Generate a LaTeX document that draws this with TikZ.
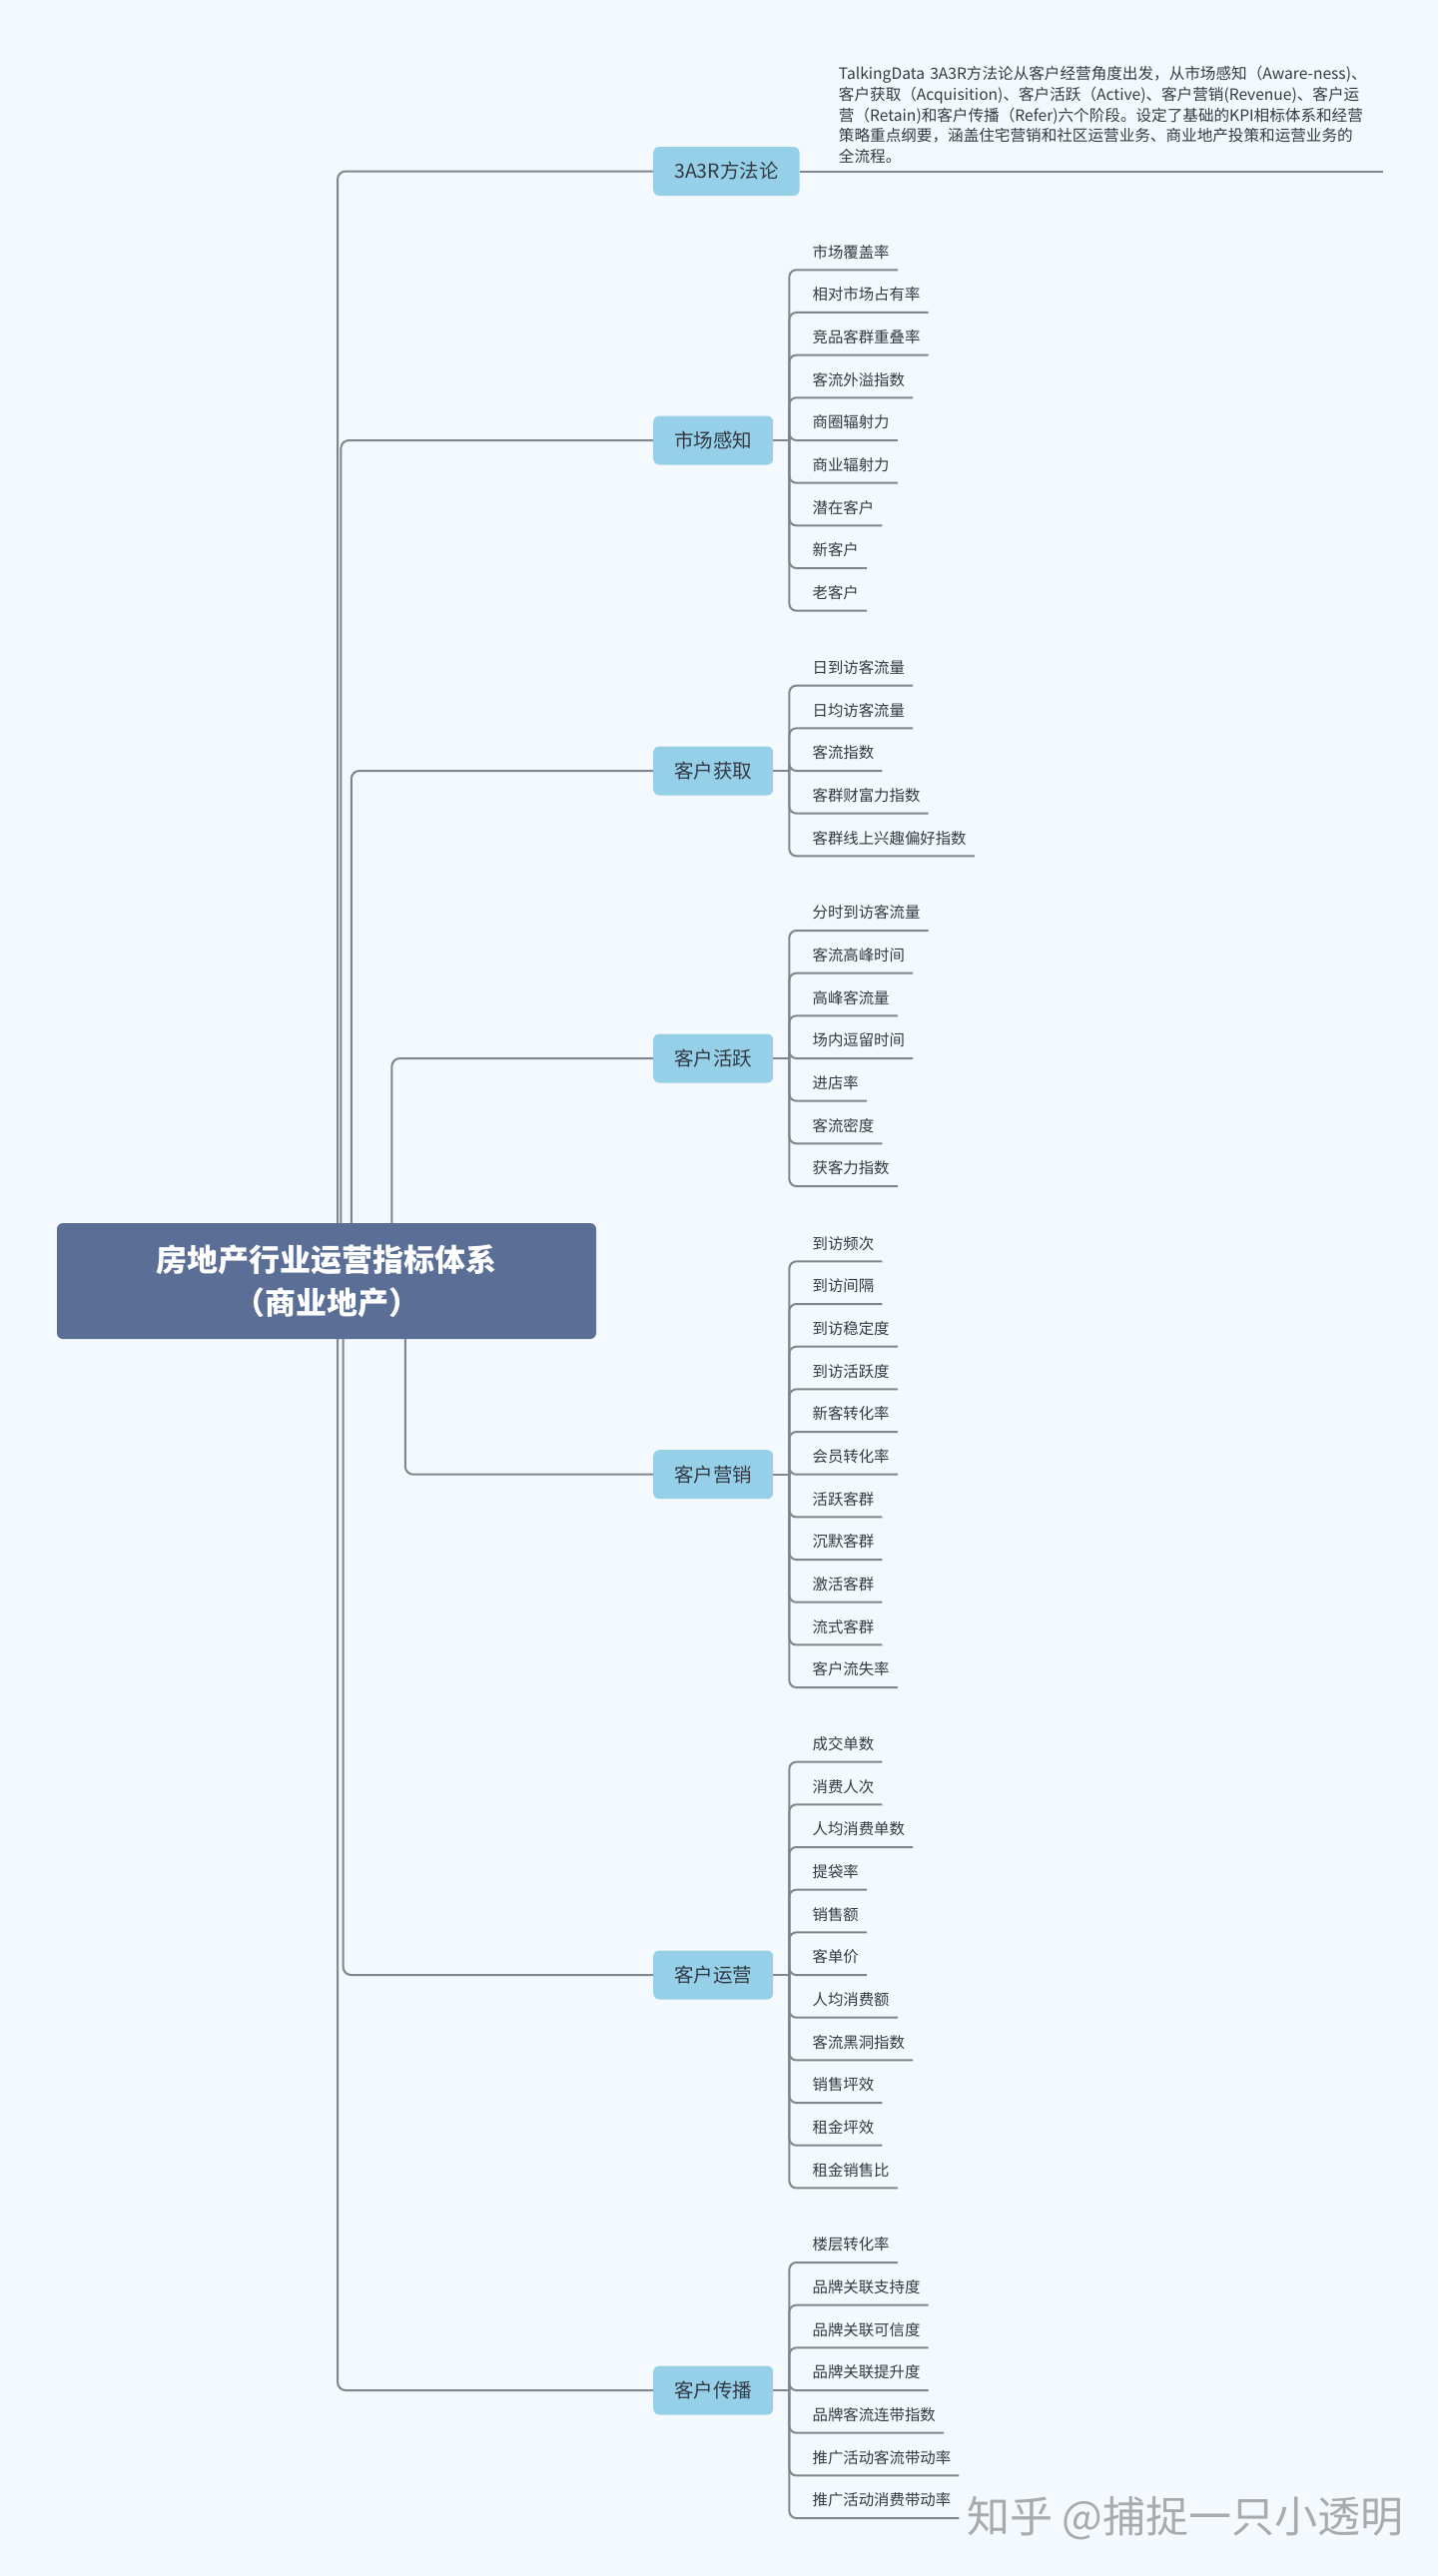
\documentclass[tikz,border=0pt]{standalone}
\usepackage{fontspec}
\setmainfont{Noto Sans CJK SC}
\usepackage{tikz}
\usetikzlibrary{positioning}
\definecolor{cBg}{HTML}{F4F9FD}
\definecolor{cRoot}{HTML}{5A6E96}
\definecolor{cBranch}{HTML}{96D0E8}
\definecolor{cLine}{HTML}{80858F}
\definecolor{cTxt}{HTML}{333A44}
\definecolor{cMark}{HTML}{A8AAAC}
\tikzset{
    box_root/.style={rectangle, rounded corners=6pt, fill=cRoot, text=white, minimum width=540pt, minimum height=116pt, align=center, font=\fontsize{31}{43}\selectfont\bfseries},
    box_branch/.style={rectangle, rounded corners=6pt, fill=cBranch, text=cTxt, minimum height=49pt, inner xsep=21pt, font=\fontsize{19.5}{24}\selectfont},
    box_leaf/.style={rectangle, inner xsep=8pt, inner ysep=12pt, text depth=0pt, text=cTxt, font=\fontsize{15.4}{20}\selectfont},
    box_note/.style={rectangle, inner xsep=8pt, inner ysep=0pt, text width=537pt, align=left, text=cTxt, font=\fontsize{15.6}{20.6}\selectfont},
    conector/.style={draw=cLine, line width=2pt}
}

\begin{document}
\begin{tikzpicture}[x=1pt, y=-1pt]

    % 0. 背景
    \useasboundingbox[fill=cBg] (0,0) rectangle (1440,2580);

    % 1. 中心节点
    \node[box_root] (root) at (327,1283) {房地产行业运营指标体系\\（商业地产）};

    % 2. 一级分支（左边对齐）
    \node[box_branch, anchor=west] (fangfa)   at (654,171.5)  {3A3R方法论};
    \node[box_branch, anchor=west] (ganzhi)   at (654,441)    {市场感知};
    \node[box_branch, anchor=west] (huoqu)    at (654,772)    {客户获取};
    \node[box_branch, anchor=west] (huoyue)   at (654,1060)   {客户活跃};
    \node[box_branch, anchor=west] (yingxiao) at (654,1476.7) {客户营销};
    \node[box_branch, anchor=west] (yunying)  at (654,1978)   {客户运营};
    \node[box_branch, anchor=west] (chuanbo)  at (654,2394)   {客户传播};

    % 3. 方法论说明
    \coordinate (fangfa-tallo) at ([xshift=16pt]fangfa.east);
    \node[box_note, anchor=base west] (nota) at ([xshift=15pt, yshift=91.5pt]fangfa-tallo) {
        TalkingData 3A3R方法论从客户经营角度出发，从市场感知（Aware-ness)、\\
        客户获取（Acquisition)、客户活跃（Active)、客户营销(Revenue)、客户运\\
        营（Retain)和客户传播（Refer)六个阶段。设定了基础的KPI相标体系和经营\\
        策略重点纲要，涵盖住宅营销和社区运营业务、商业地产投策和运营业务的\\
        全流程。
    };
    \coordinate (fangfa-fin) at (nota.east |- fangfa.east);

    % 4. 指标
    \foreach \b/\n/\lst in {
        ganzhi/9/{市场覆盖率,相对市场占有率,竞品客群重叠率,客流外溢指数,商圈辐射力,商业辐射力,潜在客户,新客户,老客户},
        huoqu/5/{日到访客流量,日均访客流量,客流指数,客群财富力指数,客群线上兴趣偏好指数},
        huoyue/7/{分时到访客流量,客流高峰时间,高峰客流量,场内逗留时间,进店率,客流密度,获客力指数},
        yingxiao/11/{到访频次,到访间隔,到访稳定度,到访活跃度,新客转化率,会员转化率,活跃客群,沉默客群,激活客群,流式客群,客户流失率},
        yunying/11/{成交单数,消费人次,人均消费单数,提袋率,销售额,客单价,人均消费额,客流黑洞指数,销售坪效,租金坪效,租金销售比},
        chuanbo/7/{楼层转化率,品牌关联支持度,品牌关联可信度,品牌关联提升度,品牌客流连带指数,推广活动客流带动率,推广活动消费带动率}}{
        \coordinate (\b-tallo) at ([xshift=16pt]\b.east);
        \foreach \t [count=\k] in \lst {
            \pgfmathsetmacro{\dy}{((\n+1)/2-\k)*42.67}
            \node[box_leaf, anchor=south west] (\b-\k) at ([xshift=15pt, yshift=\dy pt]\b-tallo) {\t};
        }
    }

    % 5. 水印
    \node[anchor=west, inner sep=0pt, text=cMark, font=\fontsize{43}{43}\selectfont] (marca) at (968,2522) {知乎 @捕捉一只小透明};

    % --- 连线 ---

    % 中心节点到各分支
    \foreach \b/\dx/\lado in {fangfa/281.3/north west, ganzhi/284.6/north west, huoqu/295/north west, huoyue/335.6/north west,
                              yingxiao/349/south west, yunying/286.8/south west, chuanbo/281.3/south west}
        \draw[conector, rounded corners=8pt] ([xshift=\dx pt]root.\lado) |- (\b.west);

    % 方法论横线
    \draw[conector] (fangfa.east) -- (fangfa-fin);

    % 分支到指标
    \foreach \b/\n in {ganzhi/9, huoqu/5, huoyue/7, yingxiao/11, yunying/11, chuanbo/7}{
        \draw[conector] (\b.east) -- (\b-tallo);
        \foreach \k in {1,...,\n}
            \draw[conector, rounded corners=7pt] (\b-tallo) |- (\b-\k.south east);
    }

\end{tikzpicture}
\end{document}
